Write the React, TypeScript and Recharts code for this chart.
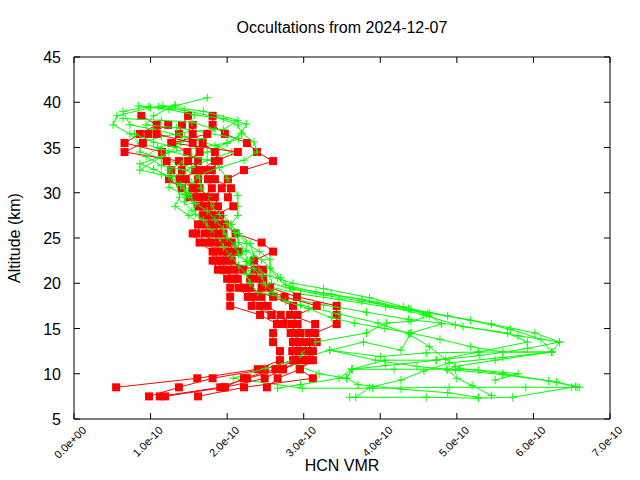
import React from 'react';
import { ScatterChart, Scatter, XAxis, YAxis } from 'recharts';

const TITLE = 'Occultations from 2024-12-07';
const X_LABEL = 'HCN VMR';
const Y_LABEL = 'Altitude (km)';
const X_TICKS = [0, 1, 2, 3, 4, 5, 6, 7]; // units of 1e-10
const Y_TICKS = [5, 10, 15, 20, 25, 30, 35, 40, 45];

// Red profiles: VMR (1e-10) at fixed altitudes
const RED_ALTS = [38.5, 37.5, 36.5, 35.5, 34.5, 33.5, 32.5, 31.5, 30.5, 29.5, 28.5, 27.5, 26.5, 25.5, 24.5, 23.5, 22.5, 21.5, 20.5, 19.5, 18.5, 17.5, 16.5, 15.5, 14.5, 13.5, 12.5, 11.5, 10.5, 9.5, 8.5, 7.5];
const R1 = [0.88, 1.08, 0.86, 0.66, 1.15, 1.21, 1.27, 1.24, 1.41, 1.51, 1.62, 1.68, 1.62, 1.55, 1.64, 1.81, 1.81, 1.88, 2.0, 2.04, 2.04, 2.04, 2.43, 2.65, 2.6, 2.6, 2.69, 2.69, 2.4, 1.61, 0.55, null];
const R2 = [1.49, 1.41, 1.37, 1.27, 1.48, 1.62, 1.58, 1.62, 1.57, 1.64, 1.7, 1.75, 1.75, 1.71, 1.8, 1.95, 2.0, 2.1, 2.14, 2.21, 2.35, 2.32, 2.58, 2.73, 2.83, 2.86, 2.85, 2.86, 2.49, 1.81, 1.37, 0.98];
const R3 = [1.81, 1.81, 1.97, 2.26, 2.39, 2.6, 2.22, 2.01, 1.93, 1.84, 1.88, 1.91, 1.97, 2.11, 2.45, 2.6, 2.35, 2.47, 2.47, 2.56, 2.91, 3.43, 3.43, 3.43, 3.15, 3.17, 3.12, 3.12, 2.95, 3.12, 2.22, 1.62];
const R4 = [null, 1.23, 0.97, 0.9, 0.66, 1.37, 1.41, 1.46, 1.64, 1.75, 1.77, 1.81, 1.88, 1.95, 2.0, 2.1, 2.06, 2.21, 2.3, 2.3, 2.45, 2.53, 2.7, 2.84, 2.89, 2.95, 2.95, 2.95, 2.73, 2.26, 1.91, 1.12];
const R5 = [null, 1.55, 1.55, 1.68, 1.84, 1.89, 1.8, 1.84, 2.05, 2.01, 2.08, 1.84, 1.8, 1.81, 1.9, 2.01, 1.9, 2.0, 2.05, 2.15, 2.27, 2.43, 2.58, 2.92, 2.96, 3.02, 3.02, 3.02, 2.73, 2.49, 1.97, 1.19];
const R6 = [null, null, 1.08, 1.55, 1.64, 1.49, 1.7, 1.75, 1.8, 1.7, 1.64, 1.73, 1.66, 1.6, 1.73, 1.87, 1.85, 1.95, 2.1, 2.27, 2.6, 2.86, 2.82, 3.15, 3.07, 3.08, 3.07, 3.08, 2.95, 2.66, 2.52, null];
const R7 = [null, null, 1.74, 1.28, 2.14, 1.84, 1.64, 1.38, 1.55, 1.6, 1.73, 1.79, 1.83, 1.89, 2.06, 2.14, 1.95, 2.36, 2.4, 2.45, 2.75, 3.17, 2.92, 2.84, 2.89, 2.91, 2.91, 2.89, 2.63, 2.22, 1.97, null];

// Green profiles: [VMR (1e-10), altitude km]
const G1 = [[1.74, 40.5], [1.32, 39.6], [1.0, 39.4], [0.56, 38.5], [0.51, 37.5], [0.73, 36.5], [0.87, 35.4], [0.86, 34.5], [1.14, 33.8], [1.44, 33.0], [1.39, 32.0], [1.34, 31.0], [1.38, 29.5], [1.32, 28.5], [1.5, 27.5], [1.64, 26.5], [1.74, 25.5], [1.8, 24.5], [1.9, 23.5], [2.0, 22.5], [2.15, 21.5], [2.35, 20.6], [2.58, 20.0], [2.86, 19.3], [3.26, 18.7], [3.76, 18.0], [4.37, 17.2], [4.88, 16.4], [5.45, 15.5], [6.02, 14.5], [6.34, 13.5], [6.24, 12.4], [5.6, 11.8], [4.9, 11.2], [4.57, 10.3], [4.27, 9.3], [3.86, 8.5], [3.68, 7.4]];
const G2 = [[1.1, 39.5], [1.44, 39.1], [1.84, 38.4], [2.14, 37.5], [2.19, 36.5], [2.0, 35.5], [1.64, 35.0], [1.24, 34.5], [0.86, 32.5], [1.14, 32.0], [1.49, 31.5], [1.54, 30.5], [1.69, 29.5], [1.84, 28.5], [1.95, 27.5], [2.05, 26.5], [2.14, 25.5], [2.25, 24.4], [2.42, 23.5], [2.56, 22.6], [2.56, 21.6], [2.66, 20.6], [2.76, 19.8], [3.16, 19.0], [3.76, 18.2], [4.56, 16.5], [5.08, 15.2], [5.66, 14.5], [5.92, 13.5], [5.28, 12.4], [4.73, 11.5], [4.07, 10.9], [3.63, 10.5], [3.56, 9.5], [3.71, 8.8], [4.27, 8.3], [4.88, 7.9], [5.28, 7.4]];
const G3 = [[0.97, 39.5], [0.64, 39.0], [0.73, 37.5], [1.04, 37.0], [1.44, 36.2], [1.84, 35.2], [2.06, 34.5], [1.74, 33.6], [1.54, 32.8], [1.29, 31.8], [1.24, 30.6], [1.44, 29.8], [1.56, 28.8], [1.59, 27.6], [1.74, 26.4], [1.84, 25.4], [1.95, 24.4], [2.1, 23.4], [2.25, 22.4], [2.4, 21.4], [2.45, 20.4], [2.56, 19.6], [2.96, 18.8], [3.46, 18.2], [4.07, 17.4], [4.64, 16.7], [5.18, 15.9], [5.7, 14.9], [6.1, 13.8], [6.24, 12.4], [5.28, 12.4], [4.6, 12.3], [4.0, 11.9], [3.34, 12.6], [2.9, 11.6], [2.5, 10.6], [2.08, 9.5], [2.98, 8.4], [3.9, 8.4], [4.9, 8.5], [5.9, 8.5], [6.57, 8.5]];
const G4 = [[1.16, 39.6], [1.69, 39.0], [2.14, 38.0], [1.95, 37.0], [1.54, 36.8], [1.14, 36.2], [0.87, 35.5], [1.14, 34.8], [1.54, 34.0], [1.84, 33.4], [2.0, 31.6], [2.14, 29.7], [2.14, 28.5], [2.14, 27.5], [2.05, 26.5], [2.15, 25.5], [2.3, 24.4], [2.35, 23.0], [2.25, 22.0], [2.3, 21.0], [2.45, 20.0], [2.56, 18.7], [2.96, 17.6], [3.46, 16.6], [3.97, 15.6], [4.37, 14.4], [4.64, 13.0], [4.85, 11.6], [5.04, 10.6], [5.6, 10.0], [6.2, 9.2], [6.6, 8.5], [6.5, 8.5], [5.73, 7.4], [5.28, 7.3], [4.6, 7.4], [3.6, 7.4]];
const G5 = [[1.32, 39.7], [1.04, 38.5], [0.94, 37.5], [1.34, 37.2], [1.74, 36.6], [2.15, 36.0], [2.0, 35.5], [1.74, 34.5], [1.44, 33.5], [1.24, 32.5], [1.36, 31.5], [1.44, 30.5], [1.54, 29.5], [1.64, 28.5], [1.74, 27.5], [1.84, 26.5], [1.95, 25.5], [2.05, 24.6], [2.2, 23.5], [2.3, 22.5], [2.4, 21.5], [2.56, 20.8], [2.86, 20.0], [3.26, 19.4], [3.86, 18.4], [4.3, 17.4], [4.62, 16.6], [4.8, 15.5], [4.4, 14.5], [4.27, 12.6], [3.78, 13.5], [3.34, 12.6], [3.94, 11.5], [4.48, 10.8], [4.98, 10.4], [5.6, 9.9], [6.3, 9.1], [6.55, 8.6]];
const G6 = [[0.64, 38.2], [1.14, 38.0], [1.54, 37.8], [1.84, 37.0], [1.69, 36.0], [1.39, 35.6], [1.09, 35.0], [0.94, 34.0], [1.14, 33.0], [1.46, 32.5], [1.64, 31.6], [1.66, 30.5], [1.74, 29.6], [1.79, 28.6], [1.9, 27.6], [2.0, 26.6], [2.1, 25.6], [2.15, 24.5], [2.25, 23.6], [2.45, 22.6], [2.56, 21.7], [2.7, 20.6], [2.82, 19.5], [3.36, 18.8], [3.96, 17.9], [4.4, 17.1], [4.64, 16.4], [4.4, 15.8], [4.08, 15.6], [3.82, 14.5], [3.15, 13.5], [2.96, 12.2], [2.9, 11.0], [3.2, 10.0], [3.56, 9.5], [3.63, 10.5], [4.18, 10.5], [4.86, 10.5], [5.28, 10.4], [5.8, 10.0], [5.5, 9.3]];
const G7 = [[0.84, 39.6], [1.24, 39.2], [1.57, 38.6], [1.95, 38.2], [2.25, 37.6], [2.19, 36.6], [2.35, 35.6], [2.39, 34.5], [2.22, 33.6], [1.9, 32.8], [1.64, 32.0], [1.54, 31.0], [1.49, 30.0], [1.44, 29.0], [1.54, 28.0], [1.69, 27.0], [1.79, 26.0], [1.9, 25.0], [1.95, 24.0], [2.05, 23.0], [2.15, 22.0], [2.25, 21.0], [2.3, 20.0], [2.4, 19.0], [2.76, 18.4], [3.26, 17.6], [3.82, 16.8], [4.37, 16.0], [4.98, 15.4], [5.8, 14.2], [6.34, 13.5], [5.92, 12.8], [5.3, 12.0], [4.73, 11.5], [4.06, 11.5], [3.63, 10.5], [3.46, 9.5], [2.96, 8.8], [2.66, 8.4]];
const G8 = [[0.79, 36.5], [1.04, 35.6], [1.34, 35.0], [1.14, 34.0], [0.86, 33.2], [1.04, 32.6], [1.24, 31.8], [1.39, 30.8], [1.49, 29.8], [1.59, 28.8], [1.74, 28.0], [1.84, 27.0], [1.95, 26.0], [2.0, 25.0], [2.1, 24.2], [2.15, 23.2], [2.25, 22.4], [2.35, 21.6], [2.45, 20.8], [2.5, 19.8], [2.6, 19.0], [2.76, 18.0], [3.06, 17.2], [3.36, 16.2], [3.66, 15.6], [4.06, 15.0], [4.4, 14.5], [4.78, 13.8], [5.18, 13.0], [5.6, 12.4], [6.24, 12.4], [5.5, 11.5], [4.98, 10.8], [4.88, 10.4], [5.0, 9.5], [5.2, 8.7], [5.45, 7.6]];

const GREEN = '#00ff00';
const RED = '#ff0000';
const FONT = '"Liberation Sans", Arial, sans-serif';

const toRed = (vals: (number | null)[]) =>
  RED_ALTS.map((a, i) => ({ x: vals[i], alt: a })).filter((d) => d.x !== null);
const toGreen = (pts: number[][]) => pts.map(([x, alt]) => ({ x, alt }));

const GREENS = [G1, G2, G3, G4, G5, G6, G7, G8].map(toGreen);
const REDS = [R1, R2, R3, R4, R5, R6, R7].map(toRed);

const Plus = (props: any) => {
  const { cx, cy } = props;
  if (cx == null || cy == null) return null;
  return (
    <path
      d={`M${cx - 4},${cy}H${cx + 4}M${cx},${cy - 4}V${cy + 4}`}
      stroke={GREEN}
      strokeWidth={1}
      fill="none"
    />
  );
};

const Square = (props: any) => {
  const { cx, cy } = props;
  if (cx == null || cy == null) return null;
  return <rect x={cx - 4} y={cy - 4} width={8} height={8} fill={RED} />;
};

const fmtX = (v: number) => (v === 0 ? '0.0e+00' : `${v.toFixed(1)}e-10`);

const BottomTick = (props: any) => {
  const { x, y, payload } = props;
  const ax = y - 8;
  return (
    <g>
      <line x1={x} y1={ax} x2={x} y2={ax - 6} stroke="#000" strokeWidth={1} />
      <text
        x={0}
        y={0}
        transform={`translate(${x + 13},${ax + 12}) rotate(-45)`}
        textAnchor="end"
        fontSize={11}
        fontFamily={FONT}
        fill="#000"
      >
        {fmtX(payload.value)}
      </text>
    </g>
  );
};

const TopTick = (props: any) => {
  const { x, y } = props;
  const ax = y + 8;
  return <line x1={x} y1={ax} x2={x} y2={ax + 6} stroke="#000" strokeWidth={1} />;
};

const LeftTick = (props: any) => {
  const { x, y, payload } = props;
  const ax = x + 8;
  return (
    <g>
      <line x1={ax} y1={y} x2={ax + 6} y2={y} stroke="#000" strokeWidth={1} />
      <text x={ax - 13} y={y + 6} textAnchor="end" fontSize={16} fontFamily={FONT} fill="#000">
        {payload.value}
      </text>
    </g>
  );
};

const RightTick = (props: any) => {
  const { x, y } = props;
  const ax = x - 8;
  return <line x1={ax} y1={y} x2={ax - 6} y2={y} stroke="#000" strokeWidth={1} />;
};

export default function App() {
  const series: React.ReactNode[] = [];
  for (let i = 0; i < GREENS.length; i++) {
    series.push(
      <Scatter
        key={`g${i}`}
        data={GREENS[i]}
        line={{ stroke: GREEN, strokeWidth: 1 }}
        shape={Plus}
        isAnimationActive={false}
      />
    );
    if (i < REDS.length) {
      series.push(
        <Scatter
          key={`r${i}`}
          data={REDS[i]}
          line={{ stroke: RED, strokeWidth: 1 }}
          shape={Square}
          isAnimationActive={false}
        />
      );
    }
  }
  return (
    <div style={{ position: 'absolute', left: 0, top: 0, width: 640, height: 480, background: '#fff' }}>
      <ScatterChart width={640} height={480} margin={{ top: 56, right: 29, bottom: 0, left: 0 }}>
        <XAxis
          type="number"
          dataKey="x"
          xAxisId={0}
          domain={[0, 7]}
          ticks={X_TICKS}
          allowDataOverflow
          height={61}
          stroke="#000"
          tickLine={false}
          tick={<BottomTick />}
          interval={0}
        />
        <XAxis
          type="number"
          dataKey="x"
          xAxisId="top"
          orientation="top"
          domain={[0, 7]}
          ticks={X_TICKS}
          allowDataOverflow
          height={1}
          stroke="#000"
          tickLine={false}
          tick={<TopTick />}
          interval={0}
        />
        <YAxis
          type="number"
          dataKey="alt"
          yAxisId={0}
          domain={[5, 45]}
          ticks={Y_TICKS}
          allowDataOverflow
          width={74}
          stroke="#000"
          tickLine={false}
          tick={<LeftTick />}
          interval={0}
        />
        <YAxis
          type="number"
          dataKey="alt"
          yAxisId="right"
          orientation="right"
          domain={[5, 45]}
          ticks={Y_TICKS}
          allowDataOverflow
          width={1}
          stroke="#000"
          tickLine={false}
          tick={<RightTick />}
          interval={0}
        />
        {series}
      </ScatterChart>
      <svg
        width={640}
        height={480}
        style={{ position: 'absolute', left: 0, top: 0, pointerEvents: 'none' }}
      >
        <text x={342} y={33} textAnchor="middle" fontSize={16} fontFamily={FONT} fill="#000">
          {TITLE}
        </text>
        <text x={342} y={471} textAnchor="middle" fontSize={16} fontFamily={FONT} fill="#000">
          {X_LABEL}
        </text>
        <text
          x={0}
          y={0}
          transform="translate(20,238) rotate(-90)"
          textAnchor="middle"
          fontSize={16}
          fontFamily={FONT}
          fill="#000"
        >
          {Y_LABEL}
        </text>
      </svg>
    </div>
  );
}
